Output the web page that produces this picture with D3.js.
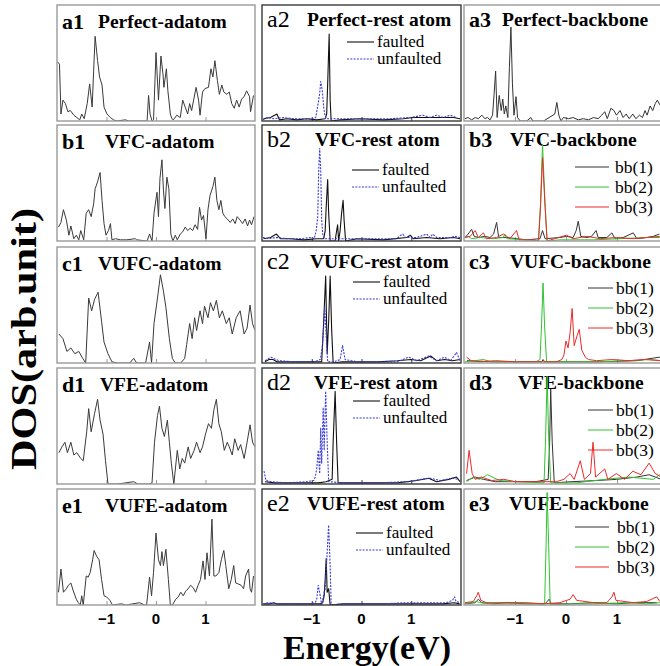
<!DOCTYPE html>
<html>
<head>
<meta charset="utf-8">
<script src="https://cdn.jsdelivr.net/npm/d3@7/dist/d3.min.js"></script>
<style>
body { margin: 0; background: #fff; }
svg { display: block; }
</style>
</head>
<body>
<div id="chart"></div>
<script>
"use strict";

// energy (eV), DOS (arb. units, 0-100 per panel)

var energyTicks = [-1, 0, 1];
var energyTickLabels = ["\u22121", "0", "1"];

var a1Adatom = [[-1.99,51],[-1.95,49],[-1.92,6],[-1.88,18],[-1.83,15],[-1.78,8],[-1.73,9],[-1.66,5],[-1.60,3],[-1.54,1],[-1.50,6],[-1.45,2],[-1.39,15],[-1.34,32],[-1.29,12],[-1.26,43],[-1.23,73],[-1.18,52],[-1.14,38],[-1.09,31],[-1.05,12],[-0.99,6],[-0.92,3],[-0.86,1],[-0.79,0],[-0.62,1],[-0.55,0],[-0.45,0],[-0.18,0],[-0.15,22],[-0.12,6],[-0.08,0],[-0.05,1],[0.00,59],[0.05,18],[0.10,56],[0.14,41],[0.16,29],[0.21,45],[0.24,26],[0.29,6],[0.32,2],[0.35,1],[0.42,5],[0.49,3],[0.54,18],[0.59,12],[0.64,6],[0.68,15],[0.72,9],[0.76,18],[0.81,29],[0.86,18],[0.89,5],[0.94,25],[0.99,28],[1.06,29],[1.11,45],[1.15,38],[1.19,52],[1.24,35],[1.28,23],[1.33,31],[1.37,25],[1.43,23],[1.48,25],[1.53,15],[1.58,11],[1.63,18],[1.68,12],[1.73,19],[1.78,21],[1.83,26],[1.89,21],[1.91,8],[1.97,22]];

var b1Adatom = [[-1.97,12],[-1.92,16],[-1.87,27],[-1.81,18],[-1.76,5],[-1.72,13],[-1.66,2],[-1.61,5],[-1.56,1],[-1.52,9],[-1.46,1],[-1.41,24],[-1.36,27],[-1.31,21],[-1.26,32],[-1.23,45],[-1.18,51],[-1.13,59],[-1.09,35],[-1.05,15],[-1.01,5],[-0.96,9],[-0.92,15],[-0.89,1],[-0.82,2],[-0.72,1],[-0.59,1],[-0.42,2],[-0.39,1],[-0.18,0],[-0.13,6],[-0.08,0],[-0.04,24],[0.02,42],[0.05,21],[0.08,54],[0.12,70],[0.15,44],[0.18,28],[0.22,55],[0.26,45],[0.30,6],[0.34,0],[0.39,5],[0.43,1],[0.49,6],[0.54,8],[0.59,12],[0.64,9],[0.69,11],[0.74,9],[0.79,14],[0.84,10],[0.88,29],[0.92,18],[0.96,22],[1.01,2],[1.05,27],[1.09,39],[1.15,47],[1.19,55],[1.23,35],[1.27,27],[1.31,35],[1.35,24],[1.39,21],[1.44,19],[1.50,16],[1.55,19],[1.60,15],[1.64,21],[1.70,18],[1.75,15],[1.80,19],[1.85,13],[1.89,18],[1.93,14],[1.98,21]];

var c1Adatom = [[-1.96,25],[-1.88,21],[-1.80,10],[-1.72,13],[-1.64,8],[-1.56,10],[-1.48,4],[-1.42,0],[-1.36,56],[-1.30,45],[-1.24,55],[-1.17,61],[-1.10,36],[-1.05,18],[-0.97,8],[-0.89,1],[-0.77,0],[-0.53,0],[-0.45,4],[-0.39,0],[-0.21,0],[-0.13,18],[-0.09,0],[-0.04,34],[0.03,56],[0.09,76],[0.15,62],[0.20,48],[0.27,21],[0.33,4],[0.39,0],[0.50,0],[0.58,4],[0.62,16],[0.68,34],[0.73,21],[0.78,39],[0.82,28],[0.89,45],[0.94,34],[0.98,49],[1.05,39],[1.10,52],[1.16,45],[1.22,54],[1.28,39],[1.34,45],[1.42,34],[1.48,39],[1.54,25],[1.62,39],[1.70,45],[1.78,25],[1.84,30],[1.90,50],[1.95,34],[2.00,28]];

var d1Adatom = [[-1.96,27],[-1.90,32],[-1.84,36],[-1.79,27],[-1.72,36],[-1.66,25],[-1.60,27],[-1.52,22],[-1.47,20],[-1.40,45],[-1.36,65],[-1.31,45],[-1.24,61],[-1.18,73],[-1.13,55],[-1.07,43],[-1.02,20],[-0.97,0],[-0.77,0],[-0.45,2],[-0.37,0],[-0.13,0],[-0.08,1],[-0.03,36],[0.03,59],[0.07,67],[0.12,48],[0.17,41],[0.23,55],[0.27,36],[0.31,18],[0.36,0],[0.43,29],[0.48,13],[0.53,22],[0.58,18],[0.65,32],[0.70,22],[0.77,29],[0.82,36],[0.89,27],[0.94,32],[1.00,43],[1.06,52],[1.12,48],[1.17,64],[1.22,73],[1.27,52],[1.32,45],[1.38,29],[1.44,36],[1.48,32],[1.54,25],[1.59,39],[1.66,29],[1.71,34],[1.78,22],[1.84,36],[1.90,51],[1.95,36],[2.00,32]];

var e1Adatom = [[-1.97,11],[-1.92,31],[-1.87,11],[-1.81,14],[-1.77,17],[-1.72,19],[-1.67,12],[-1.61,5],[-1.57,2],[-1.53,0],[-1.50,8],[-1.47,0],[-1.41,25],[-1.37,24],[-1.33,28],[-1.28,39],[-1.25,47],[-1.20,42],[-1.15,39],[-1.10,22],[-1.05,8],[-1.00,7],[-0.93,4],[-0.88,0],[-0.70,1],[-0.60,0],[-0.47,1],[-0.33,2],[-0.23,0],[-0.19,0],[-0.13,24],[-0.09,8],[-0.05,28],[0.00,62],[0.05,39],[0.09,34],[0.12,46],[0.15,34],[0.20,48],[0.25,22],[0.29,0],[0.33,0],[0.40,5],[0.45,7],[0.50,11],[0.55,8],[0.60,12],[0.65,14],[0.70,17],[0.75,15],[0.80,11],[0.85,17],[0.90,22],[0.95,38],[0.99,22],[1.03,45],[1.08,25],[1.13,74],[1.17,25],[1.21,25],[1.27,28],[1.32,39],[1.37,47],[1.41,34],[1.47,14],[1.52,22],[1.57,34],[1.61,19],[1.67,18],[1.72,17],[1.77,14],[1.81,25],[1.87,31],[1.90,14],[1.93,11],[1.97,25]];

var a2Faulted = [[-1.97,2],[-1.83,3],[-1.70,6],[-1.65,1],[-1.50,2],[-1.30,1],[-1.10,2],[-0.90,1],[-0.73,2],[-0.70,6],[-0.68,32],[-0.65,75],[-0.63,18],[-0.61,0],[-0.43,1],[-0.03,2],[0.44,1],[0.84,2],[1.04,3],[1.24,3],[1.44,3],[1.65,3],[1.85,3],[1.98,2]];
var a2Unfaulted = [[-1.98,1],[-1.90,3],[-1.77,2],[-1.57,3],[-1.36,2],[-1.16,2],[-0.96,2],[-0.92,3],[-0.90,8],[-0.86,18],[-0.84,24],[-0.82,34],[-0.79,27],[-0.76,12],[-0.74,6],[-0.71,2],[-0.49,2],[-0.03,2],[0.58,2],[0.98,3],[1.11,4],[1.24,5],[1.38,3],[1.51,5],[1.65,3],[1.78,5],[1.91,3]];

var b2Faulted = [[-1.97,2],[-1.83,3],[-1.71,6],[-1.63,2],[-1.43,2],[-1.16,1],[-0.90,2],[-0.76,2],[-0.73,9],[-0.71,29],[-0.68,53],[-0.66,24],[-0.63,0],[-0.53,0],[-0.51,6],[-0.48,14],[-0.46,0],[-0.43,9],[-0.40,24],[-0.37,35],[-0.35,18],[-0.32,0],[-0.09,2],[0.44,1],[0.91,3],[0.98,5],[1.04,2],[1.31,3],[1.58,2],[1.85,3],[1.98,2]];
var b2Unfaulted = [[-1.98,3],[-1.87,2],[-1.70,3],[-1.50,2],[-1.23,2],[-1.03,3],[-0.95,2],[-0.91,9],[-0.88,21],[-0.86,61],[-0.84,80],[-0.82,61],[-0.80,18],[-0.78,6],[-0.75,2],[-0.49,2],[0.11,2],[0.71,2],[0.79,5],[0.83,6],[0.88,3],[1.11,3],[1.31,6],[1.38,3],[1.43,6],[1.51,3],[1.78,3],[1.88,4],[1.98,3]];

var c2Faulted = [[-1.94,1],[-1.86,3],[-1.78,3],[-1.70,1],[-1.50,1],[-1.26,1],[-1.03,1],[-0.87,1],[-0.80,1],[-0.76,36],[-0.72,75],[-0.69,8],[-0.66,36],[-0.63,75],[-0.60,29],[-0.57,0],[-0.39,1],[-0.08,1],[0.32,1],[0.72,2],[0.99,3],[1.19,2],[1.39,6],[1.51,2],[1.67,3],[1.83,2],[1.98,3]];
var c2Unfaulted = [[-1.94,2],[-1.82,5],[-1.66,2],[-1.34,1],[-0.95,1],[-0.83,3],[-0.79,13],[-0.76,31],[-0.74,48],[-0.71,24],[-0.68,1],[-0.55,1],[-0.43,3],[-0.38,15],[-0.33,3],[-0.08,1],[0.72,1],[0.95,5],[1.11,2],[1.35,6],[1.51,2],[1.67,5],[1.79,2],[1.91,9],[1.98,2]];

var d2Faulted = [[-1.94,2],[-1.74,1],[-1.26,1],[-0.87,1],[-0.71,2],[-0.59,4],[-0.57,36],[-0.53,80],[-0.50,36],[-0.47,1],[-0.08,1],[0.72,1],[1.11,3],[1.35,5],[1.51,2],[1.75,4],[1.91,6],[1.98,2]];
var d2Unfaulted = [[-1.96,11],[-1.92,3],[-1.82,2],[-1.50,1],[-1.10,2],[-0.96,3],[-0.93,6],[-0.90,13],[-0.87,29],[-0.84,9],[-0.82,48],[-0.80,18],[-0.77,66],[-0.75,29],[-0.72,80],[-0.69,36],[-0.66,2],[-0.39,1],[0.32,1],[0.95,2],[1.19,4],[1.39,5],[1.59,3],[1.83,5],[1.94,4]];

var e2Faulted = [[-1.97,1],[-1.83,1],[-1.77,2],[-1.70,1],[-1.43,1],[-1.10,1],[-0.83,1],[-0.78,2],[-0.75,8],[-0.73,22],[-0.71,40],[-0.69,11],[-0.66,14],[-0.63,0],[-0.37,1],[0.10,1],[0.77,1],[1.23,1],[1.63,1],[1.87,2],[1.97,1]];
var e2Unfaulted = [[-1.98,1],[-1.87,2],[-1.70,1],[-1.37,1],[-1.03,1],[-0.93,2],[-0.90,5],[-0.87,17],[-0.83,8],[-0.80,0],[-0.75,11],[-0.73,14],[-0.70,37],[-0.67,62],[-0.66,69],[-0.63,34],[-0.61,0],[-0.37,1],[0.43,1],[0.90,2],[1.37,2],[1.70,2],[1.83,4],[1.87,7],[1.90,3],[1.98,2]];

var a3Bb1 = [[-1.98,2],[-1.92,3],[-1.85,1],[-1.78,3],[-1.72,2],[-1.65,5],[-1.59,2],[-1.54,3],[-1.49,1],[-1.44,5],[-1.41,23],[-1.38,43],[-1.35,3],[-1.31,22],[-1.27,9],[-1.24,19],[-1.21,6],[-1.18,13],[-1.14,3],[-1.11,46],[-1.08,81],[-1.05,32],[-1.02,5],[-0.98,21],[-0.95,3],[-0.90,0],[-0.77,0],[-0.69,3],[-0.65,0],[-0.44,0],[-0.22,6],[-0.18,16],[-0.14,5],[-0.10,0],[-0.05,3],[0.05,2],[0.14,3],[0.24,1],[0.34,2],[0.44,1],[0.54,3],[0.63,2],[0.70,5],[0.76,8],[0.81,2],[0.88,11],[0.94,9],[0.99,5],[1.06,9],[1.12,3],[1.18,6],[1.24,2],[1.31,6],[1.37,2],[1.44,5],[1.50,3],[1.55,9],[1.59,5],[1.65,13],[1.70,9],[1.75,15],[1.79,18],[1.84,14],[1.92,20]];

var b3Bb1 = [[-1.98,3],[-1.92,6],[-1.85,10],[-1.80,4],[-1.72,3],[-1.59,4],[-1.49,3],[-1.42,6],[-1.36,16],[-1.32,3],[-1.16,3],[-0.97,2],[-0.77,1],[-0.51,2],[-0.46,9],[-0.41,2],[-0.12,3],[0.01,4],[0.14,3],[0.20,9],[0.24,17],[0.29,4],[0.41,3],[0.50,4],[0.59,9],[0.63,3],[0.80,3],[0.90,7],[0.96,2],[1.12,3],[1.32,7],[1.39,2],[1.58,3],[1.71,4],[1.83,6]];
var b3Bb2 = [[-1.98,3],[-1.92,4],[-1.85,2],[-1.69,3],[-1.42,2],[-1.23,3],[-1.20,6],[-1.16,2],[-0.77,1],[-0.54,0],[-0.50,32],[-0.46,83],[-0.41,32],[-0.37,0],[-0.12,1],[0.54,1],[1.06,2],[1.58,3],[1.84,3]];
var b3Bb3 = [[-1.98,3],[-1.88,4],[-1.78,9],[-1.72,3],[-1.62,7],[-1.56,2],[-1.36,3],[-1.23,6],[-1.10,2],[-0.97,9],[-0.92,1],[-0.64,1],[-0.54,0],[-0.50,29],[-0.46,72],[-0.41,29],[-0.37,0],[-0.15,3],[0.01,5],[0.14,2],[0.41,4],[0.67,2],[0.99,3],[1.32,2],[1.58,3],[1.84,4]];

var c3Bb1 = [[-1.94,2],[-1.38,1],[-0.48,1],[-0.45,3],[-0.42,1],[0.60,1],[1.39,2],[1.83,5],[1.95,2]];
var c3Bb2 = [[-1.98,1],[-1.78,2],[-1.62,3],[-1.46,1],[-0.99,1],[-0.59,1],[-0.51,3],[-0.48,32],[-0.45,69],[-0.42,32],[-0.38,1],[-0.04,1],[0.60,1],[1.23,2],[1.63,3],[1.87,2]];
var c3Bb3 = [[-1.95,5],[-1.86,2],[-1.70,1],[-1.38,2],[-0.99,1],[-0.19,1],[-0.08,3],[-0.04,7],[0.00,19],[0.04,13],[0.08,26],[0.12,47],[0.16,15],[0.22,24],[0.26,29],[0.31,11],[0.38,5],[0.44,3],[0.60,2],[0.91,3],[1.23,2],[1.55,3],[1.87,2]];

var d3Bb1 = [[-1.95,3],[-1.78,6],[-1.62,4],[-1.38,2],[-0.99,2],[-0.59,2],[-0.35,4],[-0.32,36],[-0.30,82],[-0.27,36],[-0.23,1],[0.12,2],[0.60,3],[0.99,4],[1.39,6],[1.63,8],[1.87,4]];
var d3Bb2 = [[-1.95,2],[-1.82,6],[-1.70,4],[-1.54,8],[-1.30,3],[-0.99,2],[-0.43,1],[-0.40,40],[-0.37,93],[-0.34,40],[-0.30,1],[0.20,1],[0.76,4],[1.23,6],[1.71,4],[1.87,9]];
var d3Bb3 = [[-1.95,9],[-1.90,29],[-1.84,9],[-1.78,4],[-1.66,6],[-1.46,3],[-1.22,4],[-0.99,2],[-0.67,2],[-0.19,2],[-0.04,4],[0.08,9],[0.16,4],[0.28,20],[0.36,4],[0.48,9],[0.53,36],[0.58,6],[0.76,13],[0.82,4],[0.99,9],[1.15,4],[1.31,11],[1.47,8],[1.63,18],[1.75,9],[1.87,6]];

var e3Bb1 = [[-1.98,1],[-1.78,2],[-1.72,5],[-1.65,2],[-1.42,1],[-1.16,2],[-0.77,1],[-0.41,1],[-0.37,3],[-0.33,5],[-0.29,1],[0.08,1],[0.54,2],[0.99,1],[1.32,2],[1.78,2]];
var e3Bb2 = [[-1.98,1],[-1.75,3],[-1.69,2],[-1.42,1],[-0.90,1],[-0.51,1],[-0.42,0],[-0.39,52],[-0.37,97],[-0.34,52],[-0.31,0],[0.08,1],[0.54,1],[1.19,2],[1.58,1],[1.84,2]];
var e3Bb3 = [[-1.98,2],[-1.82,3],[-1.75,8],[-1.72,11],[-1.67,4],[-1.56,2],[-1.23,2],[-0.77,2],[-0.44,1],[-0.12,2],[0.08,5],[0.14,9],[0.21,4],[0.54,2],[0.80,2],[0.90,7],[0.94,11],[0.98,4],[1.32,2],[1.58,3],[1.78,7],[1.84,3]];

var restLegend = ["faulted", "unfaulted"];
var backboneLegend = ["bb(1)", "bb(2)", "bb(3)"];

// label, title, column, row, series (data + style key)
var panels = [
	{label: "a1", title: "Perfect-adatom", col: 0, row: 0, series: [[a1Adatom, "ad"]]},
	{label: "b1", title: "VFC-adatom", col: 0, row: 1, series: [[b1Adatom, "ad"]]},
	{label: "c1", title: "VUFC-adatom", col: 0, row: 2, series: [[c1Adatom, "ad"]]},
	{label: "d1", title: "VFE-adatom", col: 0, row: 3, series: [[d1Adatom, "ad"]]},
	{label: "e1", title: "VUFE-adatom", col: 0, row: 4, series: [[e1Adatom, "ad"]]},
	{label: "a2", title: "Perfect-rest atom", col: 1, row: 0, series: [[a2Faulted, "f"], [a2Unfaulted, "u"]]},
	{label: "b2", title: "VFC-rest atom", col: 1, row: 1, series: [[b2Faulted, "f"], [b2Unfaulted, "u"]]},
	{label: "c2", title: "VUFC-rest atom", col: 1, row: 2, series: [[c2Faulted, "f"], [c2Unfaulted, "u"]]},
	{label: "d2", title: "VFE-rest atom", col: 1, row: 3, series: [[d2Faulted, "f"], [d2Unfaulted, "u"]]},
	{label: "e2", title: "VUFE-rest atom", col: 1, row: 4, series: [[e2Faulted, "f"], [e2Unfaulted, "u"]]},
	{label: "a3", title: "Perfect-backbone", col: 2, row: 0, series: [[a3Bb1, "bb1"]]},
	{label: "b3", title: "VFC-backbone", col: 2, row: 1, series: [[b3Bb1, "bb1"], [b3Bb2, "bb2"], [b3Bb3, "bb3"]]},
	{label: "c3", title: "VUFC-backbone", col: 2, row: 2, series: [[c3Bb1, "bb1"], [c3Bb2, "bb2"], [c3Bb3, "bb3"]]},
	{label: "d3", title: "VFE-backbone", col: 2, row: 3, series: [[d3Bb1, "bb1"], [d3Bb2, "bb2"], [d3Bb3, "bb3"]]},
	{label: "e3", title: "VUFE-backbone", col: 2, row: 4, series: [[e3Bb1, "bb1"], [e3Bb2, "bb2"], [e3Bb3, "bb3"]]}
];

// ---- layout ----
var colX = [57, 262, 464],
	colW = [198, 199, 204],
	rowY = [5, 125, 247, 368, 489],
	rowH = 116;

// x offset of panel title text (from panel left) per column, per row
var titleDx = [
	[41, 48, 41, 43, 48],
	[45, 53, 48, 52, 45],
	[38, 46, 46, 54, 45]
];
// legend position inside col2 / col3 panels per row:
// [x of line start, y of first entry, line length, gap line->text]
var restLegendPos = [[85, 37], [90, 45], [91, 35], [91, 33], [94, 44]];
var bbLegendPos = [null, [111, 42, 34, 40], [124, 41, 25, 28], [124, 42, 25, 28], [111, 38, 34, 42]];

var styles = {
	ad:  {stroke: "#3a3a3a", width: 1, dash: null},
	f:   {stroke: "#111111", width: 1.1, dash: null},
	u:   {stroke: "#3b3bdc", width: 1.1, dash: "2,1.3"},
	bb1: {stroke: "#333333", width: 1, dash: null},
	bb2: {stroke: "#2fc42f", width: 1, dash: null},
	bb3: {stroke: "#ec2a2a", width: 1, dash: null}
};
var frameColor = ["#9a9a9a", "#3a3a3a", "#9a9a9a"];
var serif = "'Liberation Serif', 'Times New Roman', serif";

var svg = d3.select("#chart").append("svg")
	.attr("width", 660).attr("height", 666);

var defs = svg.append("defs");

panels.forEach(function(p, i) {
	var x0 = colX[p.col], y0 = rowY[p.row], w = colW[p.col];

	var x = d3.scaleLinear().domain([-2, 2]).range([x0, x0 + w]);
	var y = d3.scaleLinear().domain([0, 100]).range([y0 + rowH, y0]);

	defs.append("clipPath").attr("id", "clip" + i)
		.append("rect").attr("x", x0).attr("y", y0).attr("width", w).attr("height", rowH);

	var g = svg.append("g").attr("class", "panel");

	var line = d3.line()
		.x(function(d) { return x(d[0]); })
		.y(function(d) { return y(d[1]); });

	// titles first, curves drawn over them like in the figure
	g.append("text")
		.attr("x", x0 + 5).attr("y", y0 + (p.col == 0 ? 24 : 22))
		.style("font-family", serif)
		.style("font-size", p.col == 1 ? "24px" : "22px")
		.style("font-weight", p.col == 1 ? "normal" : "bold")
		.text(p.label);

	g.append("text")
		.attr("x", x0 + titleDx[p.col][p.row]).attr("y", y0 + (p.col == 0 ? 23 : 21))
		.style("font-family", serif)
		.style("font-size", "19.5px")
		.style("font-weight", "bold")
		.text(p.title);

	// ticks on the energy axis, inward
	var axis = d3.axisTop(x).tickValues(energyTicks).tickSize(4).tickFormat("");
	g.append("g")
		.attr("transform", "translate(0," + (y0 + rowH) + ")")
		.call(axis)
		.call(function(s) {
			s.select(".domain").remove();
			s.selectAll("line").attr("stroke", frameColor[p.col]);
		});

	var curves = g.append("g").attr("clip-path", "url(#clip" + i + ")");
	p.series.forEach(function(s) {
		var st = styles[s[1]];
		curves.append("path")
			.attr("d", line(s[0]))
			.attr("fill", "none")
			.attr("stroke", st.stroke)
			.attr("stroke-width", st.width)
			.attr("stroke-dasharray", st.dash)
			.attr("stroke-linejoin", "round");
	});

	g.append("rect")
		.attr("x", x0).attr("y", y0)
		.attr("width", w).attr("height", rowH)
		.attr("fill", "none")
		.attr("stroke", frameColor[p.col])
		.attr("stroke-width", 1.4);

	// legends
	if (p.col == 1) {
		var lp = restLegendPos[p.row];
		restLegend.forEach(function(name, k) {
			var st = styles[k == 0 ? "f" : "u"];
			var ly = y0 + lp[1] + k * 17;
			g.append("line")
				.attr("x1", x0 + lp[0]).attr("x2", x0 + lp[0] + 27)
				.attr("y1", ly).attr("y2", ly)
				.attr("stroke", st.stroke).attr("stroke-width", 1.1)
				.attr("stroke-dasharray", st.dash);
			g.append("text")
				.attr("x", x0 + lp[0] + 30).attr("y", ly + 5)
				.style("font-family", serif)
				.style("font-size", "17px")
				.text(name);
		});
	}
	if (p.col == 2 && bbLegendPos[p.row]) {
		var bp = bbLegendPos[p.row];
		backboneLegend.forEach(function(name, k) {
			var st = styles["bb" + (k + 1)];
			var ly = y0 + bp[1] + k * 20;
			g.append("line")
				.attr("x1", x0 + bp[0]).attr("x2", x0 + bp[0] + bp[2])
				.attr("y1", ly).attr("y2", ly)
				.attr("stroke", st.stroke).attr("stroke-width", 1);
			g.append("text")
				.attr("x", x0 + bp[0] + bp[3]).attr("y", ly + 6)
				.style("font-family", serif)
				.style("font-size", "17.5px")
				.text(name);
		});
	}

	// tick labels under the bottom row
	if (p.row == 4) {
		g.selectAll(".tlab")
			.data(energyTicks)
			.enter().append("text")
			.attr("class", "tlab")
			.attr("x", function(d) { return x(d); })
			.attr("y", y0 + rowH + 19)
			.attr("text-anchor", "middle")
			.style("font-family", "'Liberation Sans', Arial, sans-serif")
			.style("font-size", "15px")
			.style("font-weight", "bold")
			.text(function(d, k) { return energyTickLabels[k]; });
	}
});

svg.append("text")
	.attr("x", 367).attr("y", 659)
	.attr("text-anchor", "middle")
	.style("font-family", serif)
	.style("font-size", "34px")
	.style("font-weight", "bold")
	.text("Energy(eV)");

svg.append("text")
	.attr("transform", "translate(36,339) rotate(-90)")
	.attr("text-anchor", "middle")
	.style("font-family", serif)
	.style("font-size", "36px")
	.style("font-weight", "bold")
	.attr("textLength", 262)
	.attr("lengthAdjust", "spacingAndGlyphs")
	.text("DOS(arb.unit)");
</script>
</body>
</html>
